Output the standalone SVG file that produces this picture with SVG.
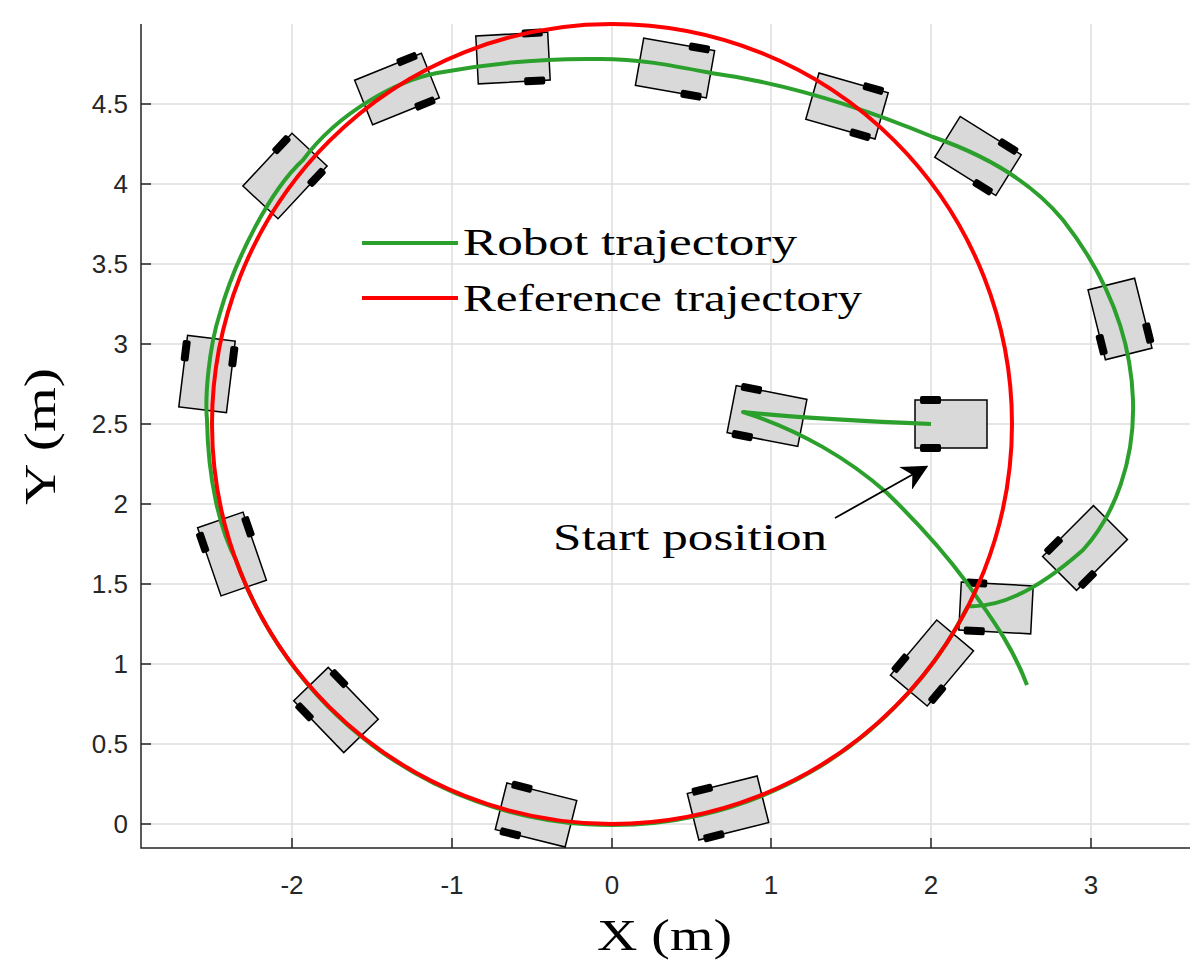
<svg xmlns="http://www.w3.org/2000/svg" xmlns:xlink="http://www.w3.org/1999/xlink" width="1203" height="979" viewBox="0 0 1203 979">
<style>
.grid{stroke:#dedede;stroke-width:1.5;fill:none}
.axis{stroke:#262626;stroke-width:1.5;fill:none}
.tick{font-family:"Liberation Sans",Arial,sans-serif;font-size:26px;fill:#262626}
.serif{font-family:"Liberation Serif","DejaVu Serif",serif;fill:#000}
.body{fill:#d9d9d9;stroke:#000;stroke-width:1.5}
.wheel{fill:#000}
</style>
<defs>
<marker id="ah" viewBox="0 0 10 10" refX="9" refY="5" markerWidth="26" markerHeight="26" orient="auto" markerUnits="userSpaceOnUse"><path d="M0,0 L10,5 L0,10 L3,5 z" fill="#000"/></marker>
<g id="robot">
<rect class="body" x="-36" y="-24" width="72" height="48"/>
<rect class="wheel" x="-31" y="-28" width="21" height="8" rx="2"/>
<rect class="wheel" x="-31" y="20" width="21" height="8" rx="2"/>
</g>
</defs>
<rect width="1203" height="979" fill="#fff"/>
<g id="grid">
<path class="grid" d="M292,24V848M452,24V848M612,24V848M771,24V848M931,24V848M1091,24V848"/>
<path class="grid" d="M141,824H1190M141,744H1190M141,664H1190M141,584H1190M141,504H1190M141,424H1190M141,344H1190M141,264H1190M141,184H1190M141,104H1190"/>
</g>
<g id="axes">
<path class="axis" d="M141,24V848H1190"/>
<path class="axis" d="M292,848v-10M452,848v-10M612,848v-10M771,848v-10M931,848v-10M1091,848v-10"/>
<path class="axis" d="M141,824h10M141,744h10M141,664h10M141,584h10M141,504h10M141,424h10M141,344h10M141,264h10M141,184h10M141,104h10"/>
<g class="tick" text-anchor="middle">
<text x="292" y="894">-2</text><text x="452" y="894">-1</text><text x="612" y="894">0</text><text x="771" y="894">1</text><text x="931" y="894">2</text><text x="1091" y="894">3</text>
</g>
<g class="tick" text-anchor="end">
<text x="128" y="833">0</text><text x="128" y="753">0.5</text><text x="128" y="673">1</text><text x="128" y="593">1.5</text><text x="128" y="513">2</text><text x="128" y="433">2.5</text><text x="128" y="353">3</text><text x="128" y="273">3.5</text><text x="128" y="193">4</text><text x="128" y="113">4.5</text>
</g>
<text class="serif" x="597" y="950" font-size="44" textLength="135" lengthAdjust="spacingAndGlyphs">X (m)</text>
<text class="serif" x="0" y="0" font-size="44" textLength="137" lengthAdjust="spacingAndGlyphs" transform="translate(55,505) rotate(-90)">Y (m)</text>
</g>
<g id="robots">
<use id="r1" xlink:href="#robot" transform="translate(951,424) rotate(0)"/>
<use id="r2" xlink:href="#robot" transform="translate(767,416) rotate(11)"/>
<use id="r3" xlink:href="#robot" transform="translate(513,58) rotate(177)"/>
<use id="r4" xlink:href="#robot" transform="translate(397,89) rotate(158)"/>
<use id="r5" xlink:href="#robot" transform="translate(285,176) rotate(133)"/>
<use id="r6" xlink:href="#robot" transform="translate(207,374) rotate(97)"/>
<use id="r7" xlink:href="#robot" transform="translate(232,554) rotate(71)"/>
<use id="r8" xlink:href="#robot" transform="translate(336,710) rotate(46)"/>
<use id="r9" xlink:href="#robot" transform="translate(536,815) rotate(14)"/>
<use id="r10" xlink:href="#robot" transform="translate(728,808) rotate(-14)"/>
<use id="r11" xlink:href="#robot" transform="translate(675,68) rotate(190)"/>
<use id="r12" xlink:href="#robot" transform="translate(847,106) rotate(196)"/>
<use id="r13" xlink:href="#robot" transform="translate(978,156) rotate(212)"/>
<use id="r14" xlink:href="#robot" transform="translate(1120,319) rotate(256)"/>
<use id="r15" xlink:href="#robot" transform="translate(996,608) rotate(3)"/>
<use id="r16" xlink:href="#robot" transform="translate(1085,548) rotate(-45)"/>
<use id="r17" xlink:href="#robot" transform="translate(932,663) rotate(-50)"/>
</g>
<g id="connectors">
<path id="robot-path" fill="none" stroke="#2ca02c" stroke-width="4" stroke-linejoin="round" d="M931,424 C880,422 800,418 743,412 C800,430 850,460 887,493 C920,525 950,560 967,583 C985,610 1010,640 1027,685"/>
<path id="robot-loop" fill="none" stroke="#2ca02c" stroke-width="4" stroke-linejoin="round" d="M968,606 C1000,608 1040,588 1083,550 C1115,515 1135,460 1133,400 C1131,340 1110,280 1063,220 C1030,180 985,155 933,137 C880,115 800,85 711,73 C670,65 640,59 600,59 C540,58 480,65 437,73 C400,80 340,110 303,160 C270,190 235,260 220,313 C208,350 205,400 207,420 C208,480 220,530 236,560 A399,399 0 0 0 968,606"/>
<circle id="reference" cx="612" cy="424" r="400" fill="none" stroke="#ff0000" stroke-width="4"/>
<line x1="835" y1="518" x2="926" y2="467" stroke="#000" stroke-width="1.8" marker-end="url(#ah)"/>
</g>
<g id="legend">
<line x1="362" y1="243" x2="458" y2="243" stroke="#2ca02c" stroke-width="4"/>
<text class="serif" x="463" y="255" font-size="38" textLength="334" lengthAdjust="spacingAndGlyphs">Robot trajectory</text>
<line x1="362" y1="298" x2="458" y2="298" stroke="#ff0000" stroke-width="4"/>
<text class="serif" x="463" y="311" font-size="38" textLength="399" lengthAdjust="spacingAndGlyphs">Reference trajectory</text>
</g>
<text id="start-label" class="serif" x="553" y="550" font-size="38" textLength="274" lengthAdjust="spacingAndGlyphs">Start position</text>
</svg>
